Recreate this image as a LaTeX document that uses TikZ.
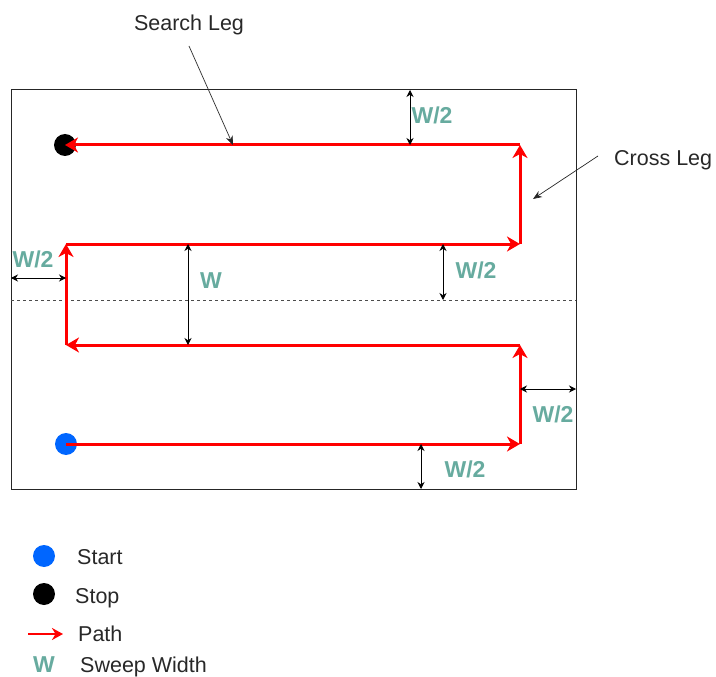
\documentclass[tikz,border=0pt]{standalone}
\usepackage{fontspec}
\setmainfont{Liberation Sans}
\usetikzlibrary{arrows.meta}
\definecolor{pathred}{RGB}{255,0,0}
\definecolor{wteal}{RGB}{103,171,159}
\definecolor{startblue}{RGB}{0,102,255}
\definecolor{txtgray}{RGB}{40,40,40}
\begin{document}
\begin{tikzpicture}[x=1pt,y=-1pt,
  legpath/.style={draw=pathred, line width=3pt, -{Stealth[length=13pt,width=15pt,inset=4pt]}},
  dimarrow/.style={draw=black, line width=0.8pt, {Stealth[length=7pt,width=7pt]}-{Stealth[length=7pt,width=7pt]}},
  wlabel/.style={text=wteal, font=\bfseries\fontsize{23}{26}\selectfont, inner sep=0pt},
  note/.style={text=txtgray, font=\fontsize{21.5}{24}\selectfont, inner sep=0pt},
  callout/.style={draw=black!85, line width=0.7pt, -{Stealth[length=9pt,width=7pt]}},
  dot/.style={circle, minimum size=22pt, inner sep=0pt}]
\useasboundingbox (0,0) rectangle (716,677);
% search area
\coordinate (aNW) at (11,90);
\coordinate (aSE) at (576,489);
\draw[draw=black!85, line width=1pt] (aNW) rectangle (aSE);
\coordinate (mL) at (11,300);
\coordinate (mR) at (576,300);
\draw[draw=black!70, line width=0.8pt, dash pattern=on 3pt off 3pt] (mL) -- (mR);
% dots
\node[dot, fill=startblue] (start) at (66,444) {};
\node[dot, fill=black] (stop) at (65,145) {};
% path corners
\coordinate (p1) at (520,444);
\coordinate (p2) at (520,345);
\coordinate (p3) at (66,345);
\coordinate (p4) at (66,244);
\coordinate (p5) at (520,244);
\coordinate (p6) at (520,145);
\draw[legpath] (start.center) -- (p1);
\draw[legpath] (p1) -- (p2);
\draw[legpath] (p2) -- (p3);
\draw[legpath] (p3) -- (p4);
\draw[legpath] (p4) -- (p5);
\draw[legpath] (p5) -- (p6);
\draw[legpath] (p6) -- (stop.center);
% dimensions
\coordinate (d1a) at (410,90);  \coordinate (d1b) at (410,145);
\coordinate (d2a) at (11,278);  \coordinate (d2b) at (66,278);
\coordinate (d3a) at (188,244); \coordinate (d3b) at (188,345);
\coordinate (d4a) at (443,244); \coordinate (d4b) at (443,300);
\coordinate (d5a) at (520,389); \coordinate (d5b) at (576,389);
\coordinate (d6a) at (421,444); \coordinate (d6b) at (421,489);
\draw[dimarrow] (d1a) -- (d1b);
\draw[dimarrow] (d2a) -- (d2b);
\draw[dimarrow] (d3a) -- (d3b);
\draw[dimarrow] (d4a) -- (d4b);
\draw[dimarrow] (d5a) -- (d5b);
\draw[dimarrow] (d6a) -- (d6b);
\node[wlabel] (l1) at (432,115) {W/2};
\node[wlabel] (l2) at (33,259) {W/2};
\node[wlabel] (l3) at (211,281) {W};
\node[wlabel] (l4) at (476,270) {W/2};
\node[wlabel] (l5) at (553,414) {W/2};
\node[wlabel] (l6) at (465,469) {W/2};
% callouts
\node[note, anchor=base] (search) at (189,31) {Search Leg};
\coordinate (sA) at (189,46);
\coordinate (sB) at (233,145);
\draw[callout] (sA) -- (sB);
\node[note, anchor=base west] (cross) at (614,165) {Cross Leg};
\coordinate (cA) at (598,156);
\coordinate (cB) at (533,199);
\draw[callout] (cA) -- (cB);
% legend
\node[dot, fill=startblue] (lgstart) at (44,556) {};
\node[note, anchor=base west] (tstart) at (77,564) {Start};
\node[dot, fill=black] (lgstop) at (44,594) {};
\node[note, anchor=base west] (tstop) at (75,603) {Stop};
\coordinate (lpa) at (28,634);
\coordinate (lpb) at (63,634);
\draw[draw=pathred, line width=2.2pt, -{Stealth[length=11pt,width=12pt,inset=3.5pt]}] (lpa) -- (lpb);
\node[note, anchor=base west] (tpath) at (78,641.5) {Path};
\node[wlabel] (lgw) at (44,664.5) {W};
\node[note, anchor=base west] (tsweep) at (80,672) {Sweep Width};
\end{tikzpicture}
\end{document}
